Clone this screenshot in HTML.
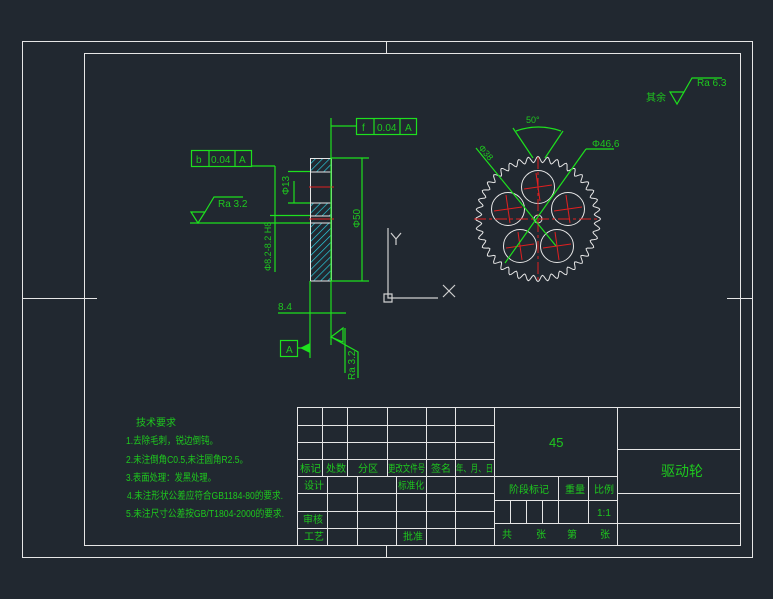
<!DOCTYPE html>
<html><head><meta charset="utf-8"><style>
html,body{margin:0;padding:0;background:#212830;}
svg{display:block}
text{font-family:"Liberation Sans","Noto Sans CJK SC",sans-serif;fill:#1ec81e}
</style></head><body>
<svg id="s" width="773" height="599" viewBox="0 0 773 599" xmlns="http://www.w3.org/2000/svg">
<defs>
<pattern id="h" width="5" height="5" patternUnits="userSpaceOnUse" patternTransform="rotate(45)">
<line x1="0" y1="0" x2="0" y2="5" stroke="#2bd6e8" stroke-width="1.3"/></pattern>
</defs>
<g fill="none" stroke="#e6e6e6" stroke-width="1">
<rect x="22.5" y="41.5" width="730" height="516"/>
<rect x="84.5" y="53.5" width="656" height="492"/>
<line x1="22" y1="298.5" x2="97" y2="298.5"/><line x1="727" y1="298.5" x2="752" y2="298.5"/>
<line x1="386.5" y1="41" x2="386.5" y2="53"/><line x1="386.5" y1="545" x2="386.5" y2="557"/>
<rect x="297.5" y="407.5" width="443" height="138"/>
<path d="M297 425.5H494M297 442.5H494M297 459.5H494M297 476.5H617M297 493.5H494M297 511.5H494M297 528.5H494"/>
<path d="M322.5 407V476M347.5 407V476M387.5 407V476M426.5 407V545M455.5 407V545M494.5 407V545"/>
<path d="M327.5 476V545M357.5 476V545M396.5 476V545"/>
<path d="M617.5 407V545M494 500.5H617M494 523.5H740M558.5 476V523M588.5 476V523M510.5 500V523M526.5 500V523M542.5 500V523M617 449.5H740M617 493.5H740"/>
</g>
<g font-size="10">
<text x="300" y="472" textLength="21" lengthAdjust="spacingAndGlyphs">标记</text><text x="326" y="472" textLength="20" lengthAdjust="spacingAndGlyphs">处数</text><text x="358" y="472">分区</text><text x="388" y="472" textLength="37" lengthAdjust="spacingAndGlyphs">更改文件号</text><text x="431" y="472">签名</text><text x="456" y="472" textLength="37" lengthAdjust="spacingAndGlyphs">年、月、日</text>
<text x="304" y="489">设计</text><text x="398" y="489" textLength="26" lengthAdjust="spacingAndGlyphs">标准化</text>
<text x="303" y="523">审核</text><text x="304" y="540">工艺</text><text x="403" y="540">批准</text>
<text x="549" y="447" font-size="13">45</text>
<text x="509" y="493">阶段标记</text><text x="565" y="493">重量</text><text x="594" y="493">比例</text>
<text x="597" y="516">1:1</text>
<text x="502" y="538">共</text><text x="536" y="538">张</text><text x="567" y="538">第</text><text x="600" y="538">张</text>
<text x="661" y="476" font-size="14">驱动轮</text>
</g>
<g font-size="10">
<text x="136" y="426">技术要求</text>
<text x="126" y="444" textLength="92" lengthAdjust="spacingAndGlyphs">1.去除毛刺，锐边倒钝。</text>
<text x="126" y="463" textLength="122" lengthAdjust="spacingAndGlyphs">2.未注倒角C0.5,未注圆角R2.5。</text>
<text x="126" y="481" textLength="90" lengthAdjust="spacingAndGlyphs">3.表面处理：发黑处理。</text>
<text x="127" y="499" textLength="156" lengthAdjust="spacingAndGlyphs">4.未注形状公差应符合GB1184-80的要求.</text>
<text x="126" y="517" textLength="158" lengthAdjust="spacingAndGlyphs">5.未注尺寸公差按GB/T1804-2000的要求.</text>
</g>
<rect x="310" y="158" width="21" height="14" fill="url(#h)"/>
<rect x="310" y="203" width="21" height="13" fill="url(#h)"/>
<rect x="310" y="223" width="21" height="58" fill="url(#h)"/>
<g stroke="#e6e6e6" fill="none"><rect x="310.5" y="158.5" width="21" height="122.5"/>
<path d="M310 172H331M310 203H331M310 216H331M310 223H331"/></g>
<path d="M309 187H334M309 219H334" stroke="#e02020"/>
<g stroke="#1ee01e" fill="none" stroke-width="1.2">
<path d="M331 118V345M310 281V358M331 158H369M331 281H369M362 158V281M288 171.5H310M288 203H310M294 181V203M270 215.5H310M190 223H310M275 166H252M275 166V272M278 313H346M345 328V373"/>
<path d="M331 126H356"/>
<rect x="356.5" y="118.5" width="60" height="16"/><path d="M374 118V135M400 118V135"/>
<rect x="191.5" y="150.5" width="60" height="16"/><path d="M209 150V167M235 150V167"/>
<path d="M191 212L198 223L205 212ZM205 212L214 197H243"/>
<path d="M331 337L343 328V342ZM331 337L358 352V378"/>
<rect x="280.5" y="340.5" width="17" height="16"/><path d="M297 348H309"/>
</g>
<path d="M300 348L310 343V353Z" fill="#1ee01e"/>
<g font-size="10"><text x="362" y="131">f</text><text x="377" y="131">0.04</text><text x="405" y="131">A</text>
<text x="196" y="163">b</text><text x="211" y="163">0.04</text><text x="239" y="163">A</text>
<text x="218" y="207">Ra 3.2</text><text x="278" y="310">8.4</text><text x="286" y="353">A</text>
<text x="646" y="101">其余</text><text x="697" y="86">Ra 6.3</text>
<text transform="translate(289,195) rotate(-90)">Φ13</text>
<text transform="translate(360,228) rotate(-90)">Φ50</text>
<text transform="translate(271,271) rotate(-90)" font-size="9">Φ8.2-8.2 H8</text>
<text transform="translate(355,380) rotate(-90)">Ra 3.2</text>
<text x="526" y="123" font-size="9">50°</text><text x="592" y="147">Φ46.6</text>
<text transform="translate(478,148) rotate(50)" font-size="9">Φ38</text></g>
<path d="M670 92L677 104L684 92ZM684 92L692 78H722" stroke="#1ee01e" fill="none" stroke-width="1.2"/>
<g stroke="#d0d0d0" fill="none" stroke-width="1.2"><path d="M388 228V298H438M384 294H392V302H384Z"/>
<path d="M443 285L455 297M455 285L443 297M391 233L396 239L401 233M396 239V245"/></g>
<g id="g" fill="none" stroke="#e6e6e6" stroke-width="1"></g>
<g stroke="#e02020" fill="none"><path d="M474 219H600M538 157V282" stroke-dasharray="12 3 3 3"/></g>
<g stroke="#1ee01e" fill="none" stroke-width="1.2"><path d="M476 148L556 246M586 149L614 149M586 149L505 263M513 128L533 158M563 131L545 158M516 131Q538 123 561 131"/></g>
</svg>
<script>
var g=document.getElementById('g'),cx=538,cy=219,N=40,d='';
for(var i=0;i<=N*8;i++){var a=i/(N*8)*2*Math.PI;var r=59.5+3*Math.cos(a*N);
d+=(i?'L':'M')+(cx+r*Math.cos(a)).toFixed(2)+' '+(cy+r*Math.sin(a)).toFixed(2);}
var ns='http://www.w3.org/2000/svg';var p=document.createElementNS(ns,'path');p.setAttribute('d',d+'Z');g.appendChild(p);
var holes=[[538,187],[508,209],[568,209],[520,246],[557,246]];
holes.forEach(function(h){var c=document.createElementNS(ns,'circle');c.setAttribute('cx',h[0]);c.setAttribute('cy',h[1]);c.setAttribute('r',16.5);g.appendChild(c);
var l=document.createElementNS(ns,'path');l.setAttribute('d','M'+(h[0]-14)+' '+(h[1]+2)+'L'+(h[0]+14)+' '+(h[1]-2)+'M'+(h[0]-2)+' '+(h[1]-14)+'L'+(h[0]+2)+' '+(h[1]+14));l.setAttribute('stroke','#e02020');g.appendChild(l);});
var c=document.createElementNS(ns,'circle');c.setAttribute('cx',cx);c.setAttribute('cy',cy);c.setAttribute('r',4);g.appendChild(c);
</script>
</body></html>
